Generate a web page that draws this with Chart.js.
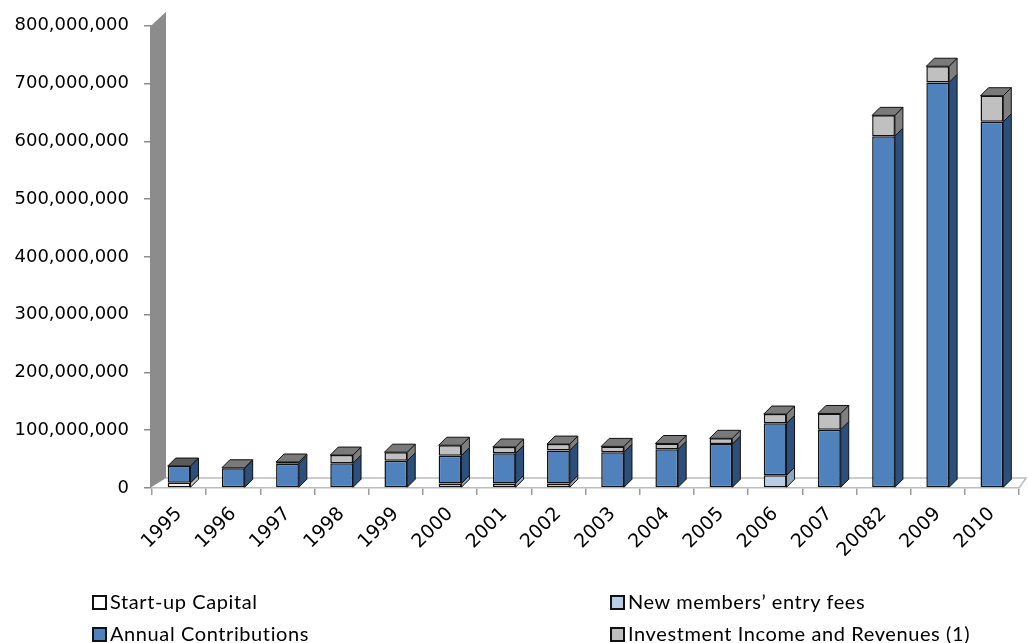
<!DOCTYPE html>
<html>
<head>
<meta charset="utf-8">
<script src="https://cdn.jsdelivr.net/npm/chart.js@4"></script>
<style>
  html, body { margin: 0; padding: 0; background: #fff; }
  #wrap { position: relative; width: 1028px; height: 643px; }
  .legend-item { position: absolute; font-family: Lato, 'Liberation Sans', sans-serif; font-size: 20px; letter-spacing: 0.6px; color: #000; white-space: nowrap; line-height: 20px; }
  .legend-item span.box { display: inline-block; width: 11px; height: 11px; border: 2px solid #111; margin-right: 3px; vertical-align: -1px; }
</style>
</head>
<body>
<div id="wrap">
  <canvas id="fundChart" width="1028" height="643"></canvas>
  <div id="legend"></div>
</div>
<script>
const categories = ['1995', '1996', '1997', '1998', '1999', '2000', '2001', '2002', '2003', '2004', '2005', '2006', '2007', '20082', '2009', '2010'];
const startUpCapital = [9000000, 0, 0, 0, 0, 0, 0, 0, 0, 0, 0, 0, 0, 0, 0, 0];
const entryFees = [0, 0, 0, 0, 0, 8000000, 8000000, 8000000, 0, 0, 0, 22000000, 0, 0, 0, 0];
const annualContributions = [29000000, 34000000, 42000000, 43000000, 47000000, 48000000, 52000000, 57000000, 62000000, 67000000, 76000000, 90000000, 101000000, 609000000, 702000000, 634000000];
const investmentIncome = [0, 1000000, 3000000, 14000000, 15000000, 18000000, 11000000, 11000000, 10000000, 10000000, 10000000, 16000000, 28000000, 36000000, 28000000, 45000000];
const yTicks = [0, 100000000, 200000000, 300000000, 400000000, 500000000, 600000000, 700000000, 800000000];

const seriesNames = ['Start-up Capital', 'New members\u2019 entry fees', 'Annual Contributions', 'Investment Income and Revenues (1)'];
const faceColors = ['#ffffff', '#b9cde5', '#4f81bd', '#c0c0c0'];
const sideColors = ['#bfbfbf', '#8ea4bf', '#2c4f7c', '#7f7f7f'];
const DEPTH = 8;

// fake 3D: side and top faces, back wall, floor
const depthPlugin = {
  id: 'depth',
  beforeDatasetsDraw(chart) {
    const ctx = chart.ctx;
    const area = chart.chartArea;
    ctx.save();
    // left wall
    ctx.fillStyle = '#8c8c8c';
    ctx.beginPath();
    ctx.moveTo(area.left - 2, area.top + 1);
    ctx.lineTo(area.left + 14, area.top - 14);
    ctx.lineTo(area.left + 14, area.bottom - 10);
    ctx.lineTo(area.left - 2, area.bottom);
    ctx.closePath();
    ctx.fill();
    // floor
    ctx.strokeStyle = '#bdbdbd';
    ctx.lineWidth = 1.5;
    ctx.beginPath();
    ctx.moveTo(area.left + 14, area.bottom - 10);
    ctx.lineTo(area.right + 7, area.bottom - 10);
    ctx.lineTo(area.right, area.bottom);
    ctx.stroke();
    ctx.restore();
  },
  afterDatasetsDraw(chart) {
    const ctx = chart.ctx;
    const n = chart.data.labels.length;
    ctx.save();
    ctx.lineWidth = 1;
    ctx.strokeStyle = '#111';
    for (let i = 0; i < n; i++) {
      let topEl = null, topDs = -1;
      chart.data.datasets.forEach((ds, d) => {
        const el = chart.getDatasetMeta(d).data[i];
        if (!el || !ds.data[i]) return;
        const half = el.width / 2;
        const r = el.x + half;
        ctx.fillStyle = sideColors[d];
        ctx.beginPath();
        ctx.moveTo(r, el.y);
        ctx.lineTo(r + DEPTH, el.y - DEPTH);
        ctx.lineTo(r + DEPTH, el.base - DEPTH);
        ctx.lineTo(r, el.base);
        ctx.closePath();
        ctx.fill();
        ctx.stroke();
        topEl = el; topDs = d;
      });
      if (topEl) {
        const half = topEl.width / 2;
        ctx.fillStyle = topDs === 3 ? '#7a7a7a' : '#5a5a5a';
        ctx.beginPath();
        ctx.moveTo(topEl.x - half, topEl.y);
        ctx.lineTo(topEl.x - half + DEPTH, topEl.y - DEPTH);
        ctx.lineTo(topEl.x + half + DEPTH, topEl.y - DEPTH);
        ctx.lineTo(topEl.x + half, topEl.y);
        ctx.closePath();
        ctx.fill();
        ctx.stroke();
      }
    }
    ctx.restore();
  }
};

const seriesData = [startUpCapital, entryFees, annualContributions, investmentIncome];

new Chart(document.getElementById('fundChart').getContext('2d'), {
  type: 'bar',
  data: {
    labels: categories,
    datasets: seriesData.map((vals, d) => ({
      label: seriesNames[d],
      data: vals,
      backgroundColor: faceColors[d],
      borderColor: '#111',
      borderWidth: 1.5,
      borderSkipped: false,
      categoryPercentage: 1,
      barPercentage: 0.42
    }))
  },
  options: {
    responsive: false,
    animation: false,
    layout: { padding: { top: 24, right: 9, left: 0, bottom: 0 } },
    plugins: {
      legend: { display: false },
      tooltip: { enabled: false }
    },
    scales: {
      x: {
        stacked: true,
        afterFit(scale) { scale.height = 155; },
        grid: { drawOnChartArea: false, tickLength: 7, color: '#9a9a9a', lineWidth: 1.5 },
        border: { display: true, color: '#bdbdbd', width: 1.5 },
        ticks: {
          minRotation: 45, maxRotation: 45,
          color: '#000',
          padding: 8,
          font: { family: 'DejaVu Sans', size: 19 }
        }
      },
      y: {
        stacked: true,
        min: 0, max: 800000000,
        afterFit(scale) { scale.width = 152; },
        afterBuildTicks(scale) { scale.ticks = yTicks.map(v => ({ value: v })); },
        grid: { drawOnChartArea: false, tickLength: 8, color: '#8c8c8c', lineWidth: 1.5 },
        border: { display: false },
        ticks: {
          color: '#000',
          padding: 15,
          font: { family: 'DejaVu Sans', size: 18 },
          callback: v => v.toLocaleString('en-US')
        }
      }
    }
  },
  plugins: [depthPlugin]
});

// two-column legend under the chart
const legendPos = [[92, 591], [610, 591], [92, 623], [610, 623]];
const legendEl = document.getElementById('legend');
seriesNames.forEach((name, d) => {
  const item = document.createElement('div');
  item.className = 'legend-item';
  item.style.left = legendPos[d][0] + 'px';
  item.style.top = legendPos[d][1] + 'px';
  item.innerHTML = '<span class="box" style="background:' + faceColors[d] + '"></span>' + name;
  legendEl.appendChild(item);
});
</script>
</body>
</html>
